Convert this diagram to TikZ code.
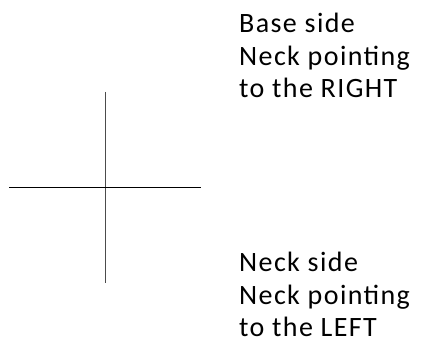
\documentclass[tikz,border=0pt]{standalone}
\usepackage{fontspec}
\setmainfont{Carlito}[LetterSpace=5]
\usepackage{tikz}

\begin{document}
\begin{tikzpicture}[x=1pt,y=-1pt,
    note/.style={anchor=north west,inner sep=0pt,align=left,
      font=\fontsize{28}{32.5}\selectfont}]
    \useasboundingbox (0,0) rectangle (421,358);
    % the cross
    \coordinate (top) at (105.5,92);
    \coordinate (bottom) at (105.5,283);
    \coordinate (left) at (9,187);
    \coordinate (right) at (201,187);
    \draw[black!70,line width=0.9pt] (top) -- (bottom);
    \draw[line width=0.9pt] (left) -- (right);
    % labels
    \node[note] (base) at (239,13) {Base side\\Neck pointing\\to the RIGHT};
    \node[note] (neck) at (239,252) {Neck side\\Neck pointing\\to the LEFT};
  \end{tikzpicture}
\end{document}
